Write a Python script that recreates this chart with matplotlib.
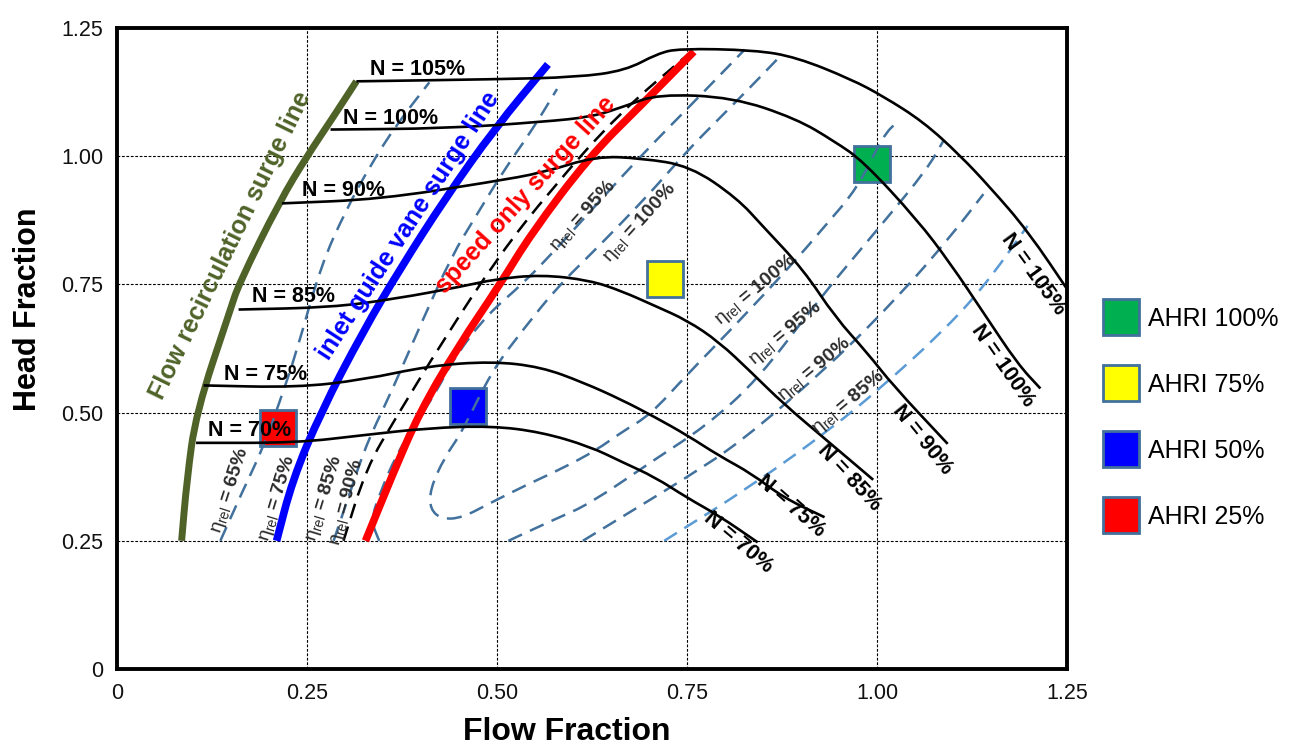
import matplotlib
matplotlib.use('Agg')
import matplotlib.pyplot as plt
from matplotlib.lines import Line2D
from matplotlib.path import Path
from matplotlib.patches import PathPatch
from matplotlib.ticker import FuncFormatter

plt.rcParams['font.family'] = ['Liberation Sans', 'DejaVu Sans']
plt.rcParams['mathtext.fontset'] = 'custom'
plt.rcParams['mathtext.rm'] = 'Liberation Sans'
plt.rcParams['mathtext.it'] = 'Liberation Sans:italic'
plt.rcParams['mathtext.bf'] = 'Liberation Sans:bold'

# surge lines (flow fraction, head fraction)
recirc_flow = [0.085, 0.092, 0.104, 0.149, 0.160, 0.214, 0.250, 0.283, 0.315]
recirc_head = [0.250, 0.369, 0.500, 0.700, 0.750, 0.912, 1.000, 1.073, 1.146]
igv_flow = [0.210, 0.231, 0.268, 0.324, 0.372, 0.432, 0.497, 0.567]
igv_head = [0.250, 0.369, 0.500, 0.659, 0.779, 0.918, 1.054, 1.179]
speed_flow = [0.327, 0.363, 0.398, 0.448, 0.504, 0.545, 0.622, 0.690, 0.759]
speed_head = [0.250, 0.381, 0.500, 0.627, 0.750, 0.849, 1.000, 1.100, 1.204]

# constant speed lines
n105_flow = [0.315, 0.497, 0.605, 0.669, 0.711, 0.740, 0.839, 0.894, 0.966, 1.008, 1.061, 1.109, 1.149, 1.198, 1.256]
n105_head = [1.146, 1.150, 1.154, 1.167, 1.200, 1.210, 1.207, 1.193, 1.150, 1.117, 1.067, 1.002, 0.939, 0.855, 0.728]
n100_flow = [0.281, 0.432, 0.561, 0.626, 0.669, 0.712, 0.810, 0.894, 0.944, 0.982, 1.053, 1.096, 1.140, 1.185, 1.215]
n100_head = [1.052, 1.054, 1.067, 1.077, 1.098, 1.121, 1.115, 1.073, 1.029, 0.990, 0.876, 0.792, 0.695, 0.595, 0.547]
n90_flow = [0.217, 0.346, 0.493, 0.561, 0.630, 0.690, 0.754, 0.816, 0.850, 0.903, 0.945, 0.987, 1.021, 1.093]
n90_head = [0.908, 0.916, 0.950, 0.968, 1.000, 0.996, 0.981, 0.918, 0.863, 0.779, 0.686, 0.617, 0.553, 0.439]
n85_flow = [0.160, 0.281, 0.367, 0.454, 0.497, 0.558, 0.622, 0.664, 0.708, 0.750, 0.792, 0.835, 0.877, 0.937, 0.995]
n85_head = [0.701, 0.705, 0.722, 0.746, 0.760, 0.769, 0.758, 0.737, 0.708, 0.680, 0.638, 0.578, 0.517, 0.442, 0.369]
n75_flow = [0.114, 0.236, 0.324, 0.410, 0.493, 0.558, 0.613, 0.664, 0.708, 0.750, 0.792, 0.835, 0.877, 0.931]
n75_head = [0.553, 0.549, 0.564, 0.591, 0.600, 0.589, 0.559, 0.525, 0.491, 0.456, 0.416, 0.381, 0.334, 0.296]
n70_flow = [0.104, 0.236, 0.324, 0.410, 0.493, 0.558, 0.622, 0.664, 0.708, 0.750, 0.792, 0.843]
n70_head = [0.441, 0.441, 0.456, 0.470, 0.474, 0.462, 0.434, 0.404, 0.374, 0.334, 0.299, 0.247]

# relative efficiency contours
eff65_flow = [0.136, 0.165, 0.193, 0.214, 0.236, 0.268, 0.302, 0.333, 0.367, 0.411]
eff65_head = [0.250, 0.346, 0.434, 0.521, 0.617, 0.786, 0.897, 0.981, 1.060, 1.144]
eff85_left_flow = [0.285, 0.307, 0.324, 0.341, 0.363, 0.402, 0.441, 0.471, 0.510, 0.545, 0.579]
eff85_left_head = [0.250, 0.346, 0.421, 0.479, 0.547, 0.680, 0.807, 0.880, 0.975, 1.048, 1.131]
eff90_left_flow = [0.298, 0.328, 0.367, 0.428, 0.503, 0.570, 0.660, 0.759]
eff90_left_head = [0.250, 0.392, 0.490, 0.638, 0.807, 0.933, 1.083, 1.208]
eff95_left_flow = [0.345, 0.334, 0.346, 0.367, 0.393, 0.419, 0.445, 0.487, 0.536, 0.579, 0.622, 0.664, 0.708, 0.750, 0.792, 0.826]
eff95_left_head = [0.250, 0.290, 0.343, 0.416, 0.479, 0.538, 0.610, 0.691, 0.754, 0.821, 0.891, 0.960, 1.029, 1.092, 1.156, 1.208]
eff100_flow = [0.868, 0.835, 0.792, 0.750, 0.708, 0.664, 0.622, 0.579, 0.536, 0.493, 0.454, 0.431, 0.412, 0.412,
               0.428, 0.454, 0.489, 0.536, 0.587, 0.631, 0.664, 0.702, 0.750, 0.810, 0.890, 0.931, 0.975, 1.008, 1.028]
eff100_head = [1.188, 1.137, 1.073, 1.010, 0.939, 0.870, 0.807, 0.744, 0.665, 0.581, 0.462, 0.413, 0.351, 0.311,
               0.292, 0.295, 0.322, 0.357, 0.392, 0.427, 0.462, 0.496, 0.574, 0.665, 0.792, 0.863, 0.939, 1.040, 1.069]
eff95_right_flow = [0.515, 0.579, 0.622, 0.708, 0.775, 0.843, 0.924, 1.008, 1.066, 1.087]
eff95_right_head = [0.250, 0.294, 0.322, 0.409, 0.474, 0.564, 0.722, 0.870, 0.975, 1.029]
eff90_right_flow = [0.613, 0.686, 0.750, 0.822, 0.940, 1.030, 1.096, 1.140]
eff90_right_head = [0.250, 0.316, 0.374, 0.444, 0.595, 0.729, 0.842, 0.926]
eff85_right_flow = [0.720, 0.835, 0.940, 1.004, 1.083, 1.140, 1.198]
eff85_right_head = [0.250, 0.357, 0.469, 0.547, 0.653, 0.744, 0.864]

# AHRI rating points
ahri_labels = ['AHRI 100%', 'AHRI 75%', 'AHRI 50%', 'AHRI 25%']
ahri_flow = [0.994, 0.721, 0.462, 0.212]
ahri_head = [0.985, 0.760, 0.513, 0.469]
ahri_colors = ['#00B050', '#FFFF00', '#0000FF', '#FF0000']

ticks = [0, 0.25, 0.50, 0.75, 1.00, 1.25]


def curve(ax, xs, ys, **kw):
    # draw the read points as a smooth path (quadratic segments between midpoints)
    pts = list(zip(xs, ys))
    verts = [pts[0], ((pts[0][0] + pts[1][0]) / 2, (pts[0][1] + pts[1][1]) / 2)]
    codes = [Path.MOVETO, Path.LINETO]
    for i in range(1, len(pts) - 1):
        mid = ((pts[i][0] + pts[i + 1][0]) / 2, (pts[i][1] + pts[i + 1][1]) / 2)
        verts += [pts[i], mid]
        codes += [Path.CURVE3, Path.CURVE3]
    verts.append(pts[-1])
    codes.append(Path.LINETO)
    ax.add_patch(PathPatch(Path(verts, codes), fill=False, **kw))


fig = plt.figure(figsize=(12.97, 7.47), dpi=100)
ax = fig.add_axes([117 / 1297, 1 - 669 / 747, 950 / 1297, 641 / 747])
ax.set_xlim(0, 1.25)
ax.set_ylim(0, 1.25)
ax.set_xticks(ticks)
ax.set_yticks(ticks)
fmt = FuncFormatter(lambda v, p: '0' if v == 0 else f'{v:.2f}')
ax.xaxis.set_major_formatter(fmt)
ax.yaxis.set_major_formatter(fmt)
ax.tick_params(length=0, labelsize=15.5, pad=10, labelcolor='#111111')
ax.grid(True, color='black', linestyle=(0, (2.5, 1.5)), linewidth=0.8, zorder=0.5)
ax.set_axisbelow(True)
for s in ax.spines.values():
    s.set_linewidth(2.8)

# efficiency contours
dash_blue = '#41719C'
light_blue = '#5B9BD5'
contours = [
    (eff65_flow, eff65_head, dash_blue),
    (eff85_left_flow, eff85_left_head, dash_blue),
    (eff95_left_flow, eff95_left_head, dash_blue),
    (eff100_flow, eff100_head, dash_blue),
    (eff95_right_flow, eff95_right_head, dash_blue),
    (eff90_right_flow, eff90_right_head, dash_blue),
    (eff85_right_flow, eff85_right_head, light_blue),
]
for fx, hy, c in contours:
    curve(ax, fx, hy, edgecolor=c, lw=1.8, linestyle=(0, (6, 3.5)), capstyle='butt', zorder=3)
curve(ax, eff90_left_flow, eff90_left_head, edgecolor='black', lw=1.8, linestyle=(0, (6, 3.5)),
      capstyle='butt', zorder=3)

# AHRI squares
for fx, hy, c in zip(ahri_flow, ahri_head, ahri_colors):
    ax.plot(fx, hy, marker='s', ms=26, mfc=c, mec='#41719C', mew=2, ls='none', zorder=2.5)

# surge lines
curve(ax, recirc_flow, recirc_head, edgecolor='#4F6228', lw=5, capstyle='butt', zorder=4)
curve(ax, igv_flow, igv_head, edgecolor='#0000FF', lw=5.5, capstyle='butt', zorder=4)
curve(ax, speed_flow, speed_head, edgecolor='#FF0000', lw=5.5, capstyle='butt', zorder=4)

# speed lines
speed_lines = [(n105_flow, n105_head), (n100_flow, n100_head), (n90_flow, n90_head),
               (n85_flow, n85_head), (n75_flow, n75_head), (n70_flow, n70_head)]
for fx, hy in speed_lines:
    curve(ax, fx, hy, edgecolor='black', lw=1.9, zorder=5)

# speed labels
speed_names = ['N = 105%', 'N = 100%', 'N = 90%', 'N = 85%', 'N = 75%', 'N = 70%']
left_pos = [(0.396, 1.169), (0.360, 1.073), (0.298, 0.933), (0.232, 0.727), (0.196, 0.574), (0.175, 0.465)]
right_pos = [(1.206, 0.769, -54), (1.166, 0.591, -55), (1.060, 0.447, -51),
             (0.963, 0.374, -47), (0.887, 0.317, -41), (0.817, 0.246, -40)]
for name, (lx, ly), (rx, ry, rot) in zip(speed_names, left_pos, right_pos):
    ax.text(lx, ly, name, fontsize=15.5, fontweight='bold', ha='center', va='center', zorder=7)
    ax.text(rx, ry, name, fontsize=15.5, fontweight='bold', ha='center', va='center',
            rotation=rot, rotation_mode='anchor', zorder=7)

# efficiency labels
eta_labels = [('65%', 0.149, 0.348, 72), ('75%', 0.210, 0.334, 73), ('85%', 0.273, 0.334, 73),
              ('90%', 0.302, 0.326, 75), ('95%', 0.613, 0.884, 48), ('100%', 0.688, 0.870, 48),
              ('100%', 0.841, 0.739, 40), ('95%', 0.880, 0.655, 40), ('90%', 0.918, 0.585, 40),
              ('85%', 0.963, 0.521, 40)]
for val, ex, ey, rot in eta_labels:
    ax.text(ex, ey, r'$\mathrm{\eta_{rel}}$ = ' + val, fontsize=14, fontweight='bold', color='#2b2b2b',
            ha='center', va='center', rotation=rot, rotation_mode='anchor', zorder=7)

# surge line labels
ax.text(0.150, 0.826, 'Flow recirculation surge line', color='#4F6228', fontsize=18, fontweight='bold',
        ha='center', va='center', rotation=64, rotation_mode='anchor', zorder=6)
ax.text(0.384, 0.864, 'inlet guide vane surge line', color='#0000FF', fontsize=18, fontweight='bold',
        ha='center', va='center', rotation=57, rotation_mode='anchor', zorder=6)
ax.text(0.538, 0.924, 'speed only surge line', color='#FF0000', fontsize=18, fontweight='bold',
        ha='center', va='center', rotation=48, rotation_mode='anchor', zorder=6)

fig.text(567 / 1297, 1 - 732 / 747, 'Flow Fraction', fontsize=23, fontweight='bold', ha='center', va='center')
fig.text(28 / 1297, 1 - 309 / 747, 'Head Fraction', fontsize=22, fontweight='bold', ha='center', va='center',
         rotation=90)

handles = [Line2D([0], [0], marker='s', ls='none', ms=26, mfc=c, mec='#41719C', mew=2) for c in ahri_colors]
fig.legend(handles, ahri_labels, loc='upper left', bbox_to_anchor=(1101 / 1297, 1 - 307 / 747),
           frameon=False, fontsize=18, labelspacing=1.68, handletextpad=0.3, handlelength=1.6,
           borderaxespad=0, borderpad=0)

fig.savefig('out.png', dpi=100)
